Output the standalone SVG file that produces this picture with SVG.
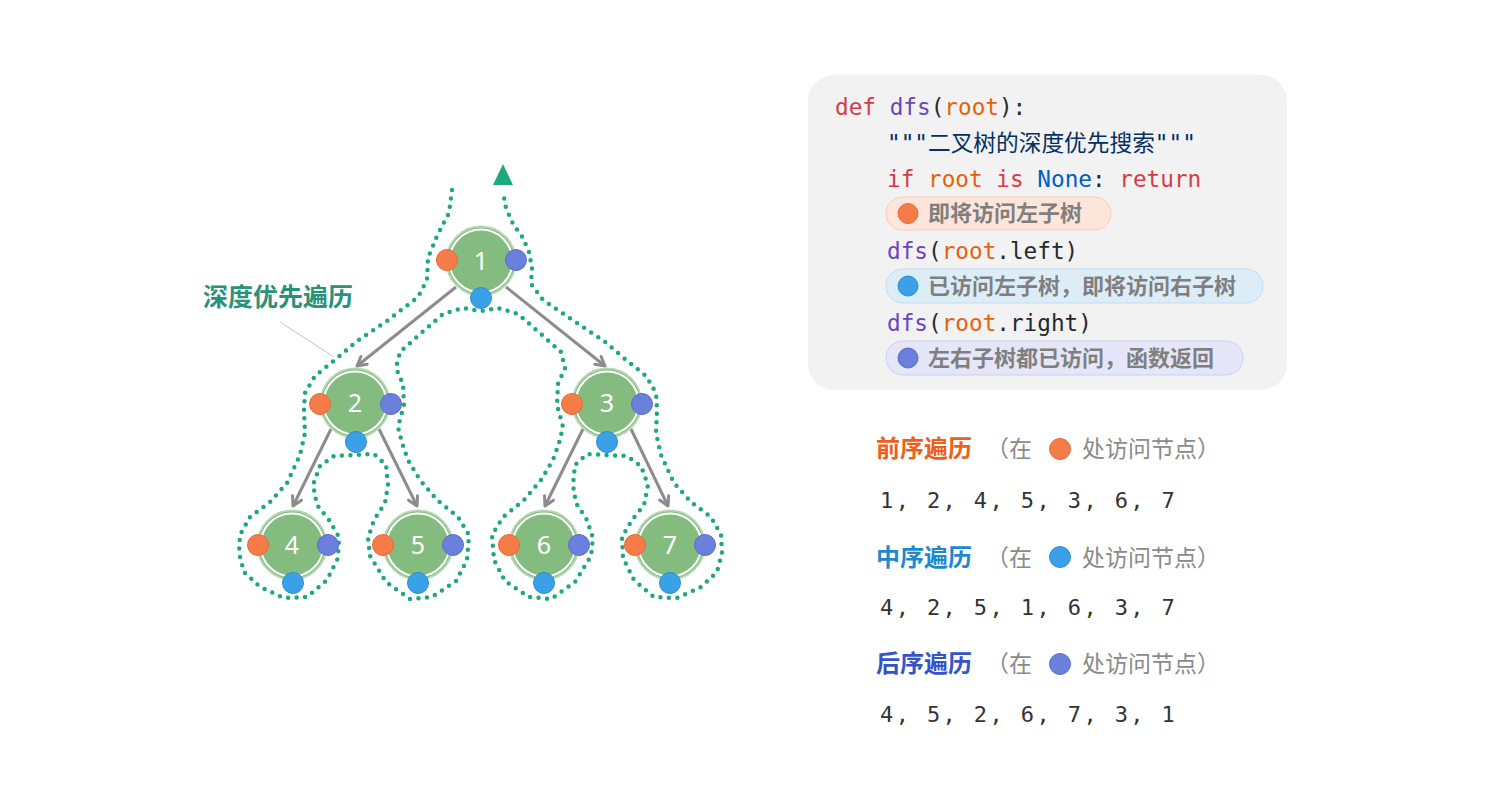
<svg xmlns="http://www.w3.org/2000/svg" width="1504" height="800" viewBox="0 0 1504 800">
<style>
.ring{fill:#84bc80;stroke:#b3d8af;stroke-width:2}
.inner{fill:none;stroke:#ffffff;stroke-width:2}
.num{font-family:"Noto Sans","DejaVu Sans",sans-serif;font-size:25px;fill:#ffffff;text-anchor:middle}
.dl{fill:#f57c48;stroke:#e5693a;stroke-width:1}
.dm{fill:#3aa0e8;stroke:#2a8fd6;stroke-width:1}
.dr{fill:#6b7fdd;stroke:#5a6dcc;stroke-width:1}
.edge{stroke:#8c8c8c;stroke-width:3;fill:none;marker-end:url(#arr)}
.code{font-family:"DejaVu Sans Mono","Noto Sans CJK SC",monospace;font-size:22.7px;fill:#24292e}
.kw{fill:#d73a49}.fn{fill:#6f42c1}.var{fill:#e36209}.cst{fill:#005cc5}.str{fill:#032f62}
.badge{font-family:"Noto Sans CJK SC",sans-serif;font-size:22px;font-weight:bold;fill:#7f7f7f}
.title{font-family:"Noto Sans CJK SC",sans-serif;font-size:24px;font-weight:bold}
.gray{font-family:"Noto Sans CJK SC",sans-serif;font-size:23px;fill:#8a8a8a}
.seq{font-family:"DejaVu Sans Mono",monospace;font-size:22px;fill:#333333;letter-spacing:2.4px}
</style>
<defs>
<marker id="arr" viewBox="0 0 14 14" markerWidth="14" markerHeight="14" refX="12" refY="7" orient="auto" markerUnits="userSpaceOnUse">
<path d="M3,2 L12,7 L3,12" fill="none" stroke="#8c8c8c" stroke-width="3" stroke-linecap="round" stroke-linejoin="round"/>
</marker>
</defs>
<rect width="1504" height="800" fill="#ffffff"/>

<g id="connectors">
<line class="edge" x1="456" y1="287" x2="357" y2="366"/>
<line class="edge" x1="506" y1="287" x2="605" y2="366"/>
<line class="edge" x1="331" y1="429" x2="293" y2="506"/>
<line class="edge" x1="379" y1="429" x2="417" y2="506"/>
<line class="edge" x1="583" y1="429" x2="545" y2="506"/>
<line class="edge" x1="631" y1="429" x2="668" y2="506"/>
</g>

<g id="traversal">
<path fill="none" stroke="#1fa880" stroke-width="4.5" stroke-linecap="round" stroke-linejoin="round" stroke-dasharray="0 8.5" d="M452,190 L449,213 L437,236 L428,258 L427,280 L418,297 L387,321 L357,341 L336,359 L315,376 L305,393 L304,410 L305,433 L300,455 L287,483 L270,502 L250,517 L240,535 L239,553 L244,572 L260,587 L284,598 L307,597 L327,580 L338,558 L339,537 L329,520 L317,505 L313,485 L320,466 L334,456 L355,455 L374,454 L386,465 L388,485 L385,503 L374,520 L368,538 L370,556 L386,582 L410,599 L432,597 L456,581 L467,560 L469,535 L458,517 L437,500 L420,480 L408,460 L402,443 L398,427 L404,405 L403,384 L396,368 L400,352 L420,334 L443,314 L463,308 L481,311 L498,308 L518,314 L541,334 L561,352 L565,368 L558,384 L557,405 L563,427 L559,443 L553,460 L541,480 L524,500 L503,517 L492,535 L494,560 L505,581 L529,597 L551,599 L575,582 L591,556 L593,538 L587,520 L576,503 L573,485 L575,465 L587,454 L606,455 L627,456 L641,466 L648,485 L644,505 L632,520 L622,537 L623,558 L634,580 L654,597 L677,598 L701,587 L717,572 L722,553 L721,535 L711,517 L691,502 L674,483 L661,455 L656,433 L657,410 L656,393 L646,376 L625,359 L604,341 L574,321 L543,300 L531,284 L532,268 L529,252 L523,238 L513,224 L506,208 L503,192"/>
<polygon points="503,164 493,185 513,185" fill="#1fa880"/>
</g>

<g id="label-dfs">
<line x1="280" y1="322" x2="334" y2="357" stroke="#c4c4c4" stroke-width="1"/>
<text x="203" y="306" font-family="Noto Sans CJK SC, sans-serif" font-size="25" font-weight="bold" fill="#2a917a">深度优先遍历</text>
</g>

<g id="node1"><circle class="ring" cx="481" cy="261" r="34.5"/><circle class="inner" cx="481" cy="261" r="31.5"/><text class="num" x="481" y="270">1</text><circle class="dl" cx="447" cy="260" r="10.5"/><circle class="dr" cx="516" cy="260" r="10.5"/><circle class="dm" cx="481" cy="298" r="10.5"/></g>
<g id="node2"><circle class="ring" cx="355" cy="403" r="34.5"/><circle class="inner" cx="355" cy="403" r="31.5"/><text class="num" x="355" y="412">2</text><circle class="dl" cx="320" cy="404" r="10.5"/><circle class="dr" cx="391" cy="404" r="10.5"/><circle class="dm" cx="356" cy="442" r="10.5"/></g>
<g id="node3"><circle class="ring" cx="607" cy="403" r="34.5"/><circle class="inner" cx="607" cy="403" r="31.5"/><text class="num" x="607" y="412">3</text><circle class="dl" cx="572" cy="404" r="10.5"/><circle class="dr" cx="642" cy="404" r="10.5"/><circle class="dm" cx="607" cy="442" r="10.5"/></g>
<g id="node4"><circle class="ring" cx="292" cy="545" r="34.5"/><circle class="inner" cx="292" cy="545" r="31.5"/><text class="num" x="292" y="554">4</text><circle class="dl" cx="258" cy="545" r="10.5"/><circle class="dr" cx="328" cy="545" r="10.5"/><circle class="dm" cx="293" cy="583" r="10.5"/></g>
<g id="node5"><circle class="ring" cx="418" cy="545" r="34.5"/><circle class="inner" cx="418" cy="545" r="31.5"/><text class="num" x="418" y="554">5</text><circle class="dl" cx="383" cy="545" r="10.5"/><circle class="dr" cx="453" cy="545" r="10.5"/><circle class="dm" cx="418" cy="583" r="10.5"/></g>
<g id="node6"><circle class="ring" cx="544" cy="545" r="34.5"/><circle class="inner" cx="544" cy="545" r="31.5"/><text class="num" x="544" y="554">6</text><circle class="dl" cx="509" cy="545" r="10.5"/><circle class="dr" cx="579" cy="545" r="10.5"/><circle class="dm" cx="544" cy="583" r="10.5"/></g>
<g id="node7"><circle class="ring" cx="670" cy="545" r="34.5"/><circle class="inner" cx="670" cy="545" r="31.5"/><text class="num" x="670" y="554">7</text><circle class="dl" cx="635" cy="545" r="10.5"/><circle class="dr" cx="705" cy="545" r="10.5"/><circle class="dm" cx="670" cy="583" r="10.5"/></g>

<g id="code-box">
<rect x="808" y="75" width="479" height="315" rx="26" fill="#f2f2f2"/>
<text class="code" x="835" y="115"><tspan class="kw">def</tspan> <tspan class="fn">dfs</tspan>(<tspan class="var">root</tspan>):</text>
<text class="code str" x="887" y="151">"""二叉树的深度优先搜索"""</text>
<text class="code" x="887" y="187"><tspan class="kw">if</tspan> <tspan class="var">root</tspan> <tspan class="kw">is</tspan> <tspan class="cst">None</tspan>: <tspan class="kw">return</tspan></text>
<rect x="886" y="197" width="225" height="33" rx="16.5" fill="#fde5da" stroke="#f6cdb9" stroke-width="1"/>
<circle class="dl" cx="908" cy="213.5" r="10"/>
<text class="badge" x="928" y="221">即将访问左子树</text>
<text class="code" x="887" y="259"><tspan class="fn">dfs</tspan>(<tspan class="var">root</tspan>.left)</text>
<rect x="886" y="269" width="377" height="34" rx="17" fill="#ddedf8" stroke="#bfddf3" stroke-width="1"/>
<circle class="dm" cx="908" cy="286" r="10"/>
<text class="badge" x="928" y="294">已访问左子树，即将访问右子树</text>
<text class="code" x="887" y="331"><tspan class="fn">dfs</tspan>(<tspan class="var">root</tspan>.right)</text>
<rect x="886" y="341" width="357" height="34" rx="17" fill="#e5e7f8" stroke="#cbcff1" stroke-width="1"/>
<circle class="dr" cx="908" cy="358" r="10"/>
<text class="badge" x="928" y="366">左右子树都已访问，函数返回</text>
</g>

<g id="preorder">
<text class="title" x="876" y="457" fill="#ec5f1c">前序遍历</text>
<text class="gray" x="986" y="457">（在</text>
<circle class="dl" cx="1060" cy="449" r="10.5"/>
<text class="gray" x="1082" y="457">处访问节点）</text>
<text class="seq" x="880" y="508">1, 2, 4, 5, 3, 6, 7</text>
</g>
<g id="inorder">
<text class="title" x="876" y="566" fill="#1d8ad0">中序遍历</text>
<text class="gray" x="986" y="566">（在</text>
<circle class="dm" cx="1060" cy="557" r="10.5"/>
<text class="gray" x="1082" y="566">处访问节点）</text>
<text class="seq" x="880" y="615">4, 2, 5, 1, 6, 3, 7</text>
</g>
<g id="postorder">
<text class="title" x="876" y="672" fill="#3554c8">后序遍历</text>
<text class="gray" x="986" y="672">（在</text>
<circle class="dr" cx="1060" cy="664" r="10.5"/>
<text class="gray" x="1082" y="672">处访问节点）</text>
<text class="seq" x="880" y="722">4, 5, 2, 6, 7, 3, 1</text>
</g>
</svg>
